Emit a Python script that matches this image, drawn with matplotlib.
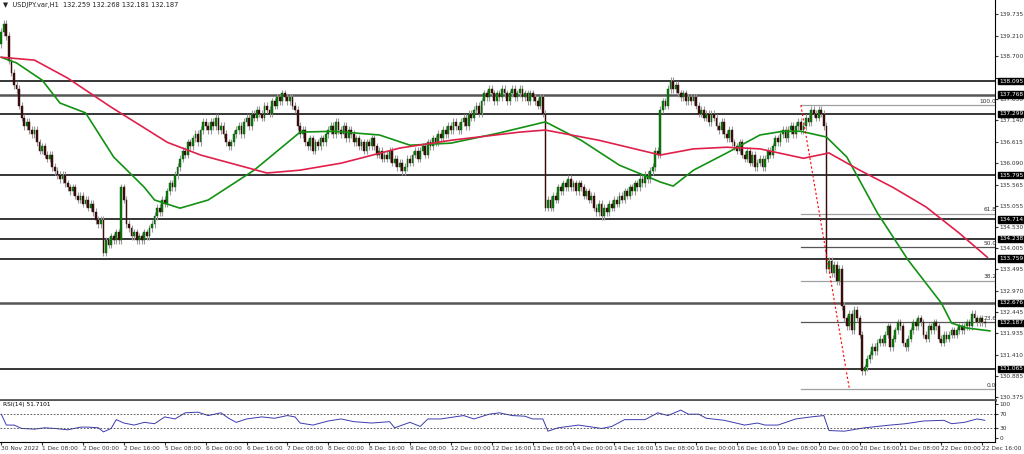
import matplotlib.pyplot as plt
import numpy as np

# hourly closes, USDJPY H1 (30 Nov 16:00 .. 22 Dec 15:00)
closes = [
    139.3, 139.5, 139.2, 138.6, 138.3, 138.0, 137.9, 137.5, 137.2, 137.0,
    137.1, 136.9, 136.8, 136.9, 136.6, 136.4, 136.5, 136.3, 136.2, 136.3,
    136.0, 135.9, 135.8, 135.7, 135.8, 135.6, 135.5, 135.4, 135.5, 135.3,
    135.2, 135.3, 135.1, 135.2, 135.0, 135.1, 134.9, 134.7, 134.6, 134.7,
    133.9, 134.2, 134.1, 134.3, 134.2, 134.4, 134.2, 135.5, 135.2, 134.6,
    134.5, 134.3, 134.4, 134.2, 134.3, 134.2, 134.4, 134.3, 134.5, 134.6,
    134.8, 135.0, 134.9, 135.2, 135.1, 135.4, 135.6, 135.5, 135.8, 136.0,
    136.2, 136.4, 136.3, 136.6, 136.5, 136.7, 136.8, 136.6, 136.9, 137.1,
    137.0, 136.9, 137.1, 137.0, 137.2, 136.9, 137.0, 136.8, 136.6, 136.5,
    136.6, 136.8, 136.9, 137.0, 136.8, 137.1, 137.2, 137.0, 137.3, 137.2,
    137.4, 137.3, 137.2, 137.5, 137.4, 137.3, 137.6, 137.5, 137.7, 137.6,
    137.8, 137.7, 137.6, 137.7, 137.5, 137.4, 137.0, 136.8, 136.9, 136.6,
    136.5, 136.7, 136.4, 136.6, 136.5, 136.7, 136.6, 136.8, 136.9, 137.0,
    136.8, 137.1, 136.9, 136.8, 137.0, 136.7, 136.9, 136.8, 136.6, 136.7,
    136.5, 136.6, 136.4, 136.6, 136.5, 136.7, 136.5, 136.3, 136.4, 136.2,
    136.3, 136.2, 136.4, 136.1, 136.2, 136.0, 136.1, 135.9, 136.0, 136.2,
    136.1, 136.3, 136.4, 136.2, 136.4, 136.5, 136.3, 136.6, 136.5, 136.7,
    136.6, 136.8, 136.7, 136.9, 136.8, 137.0, 136.9, 137.1, 137.0, 136.9,
    137.1, 137.2, 137.0, 137.3, 137.2, 137.4, 137.5, 137.3, 137.6, 137.8,
    137.7, 137.9, 137.8, 137.6, 137.8, 137.7, 137.9, 137.8, 137.6, 137.8,
    137.9, 137.7, 137.8, 137.9, 137.7, 137.8, 137.6, 137.8, 137.7, 137.6,
    137.5, 137.7, 137.3, 135.0, 135.2, 135.0, 135.3, 135.2, 135.5, 135.4,
    135.6, 135.5, 135.7, 135.5, 135.6, 135.4, 135.6, 135.5, 135.3, 135.4,
    135.2, 135.3, 135.0, 134.9, 135.1, 134.8, 135.0, 134.9, 135.1, 135.0,
    135.2, 135.1, 135.3, 135.2, 135.4, 135.3, 135.5, 135.4, 135.6, 135.5,
    135.7, 135.6, 135.8, 135.7, 135.9, 136.0, 136.4, 136.3, 137.4, 137.6,
    137.5, 137.9, 138.1, 137.9, 138.0, 137.8, 137.7, 137.8, 137.6, 137.7,
    137.6, 137.7, 137.5, 137.3, 137.4, 137.2, 137.3, 137.1, 137.3, 137.2,
    137.0, 136.9, 137.1, 136.8, 136.7, 136.9, 136.6, 136.5, 136.4, 136.6,
    136.3, 136.2, 136.4, 136.1, 136.3, 136.0, 136.1, 136.2, 136.0, 136.2,
    136.4, 136.3, 136.5, 136.7, 136.6, 136.8, 136.9, 136.7, 136.9, 137.0,
    136.8, 137.0, 137.1, 136.9, 137.0, 137.2, 137.1, 137.4, 137.3, 137.2,
    137.4, 137.3, 137.0, 133.5, 133.7, 133.4, 133.6, 133.2, 133.5, 132.6,
    132.3, 132.1, 132.4, 132.0, 132.5, 132.3, 131.9, 131.0, 131.1, 131.3,
    131.4, 131.6, 131.5, 131.7, 131.8, 131.7, 131.9, 132.1, 131.6, 131.8,
    132.0, 132.2, 132.1, 131.7, 131.6, 131.8, 132.0, 132.2, 132.1, 132.3,
    132.2, 131.9, 131.8, 132.1, 132.0, 132.2, 132.1, 131.8, 131.7, 131.9,
    131.8, 131.9, 132.0, 131.9, 132.0, 132.1, 132.0, 132.1, 132.2, 132.1,
    132.4, 132.3, 132.2, 132.3, 132.2, 132.187,
]
first_open = 139.0

# moving averages (candle index, price)
ma_fast_idx = [0, 6, 16, 23, 33, 44, 56, 60, 70, 81, 99, 117, 130, 148, 160, 176, 195, 213,
               227, 242, 258, 263, 271, 284, 297, 306, 313, 323, 331, 343, 355, 368, 372, 378, 387]
ma_fast = [138.68, 138.54, 138.12, 137.56, 137.32, 136.24, 135.50, 135.19, 134.99, 135.19,
           135.92, 136.85, 136.87, 136.78, 136.53, 136.58, 136.83, 137.10, 136.65, 136.04,
           135.63, 135.53, 135.92, 136.34, 136.78, 136.87, 136.87, 136.73, 136.24, 134.87,
           133.72, 132.67, 132.18, 132.06, 131.99]
ma_slow_idx = [0, 13, 26, 43, 65, 78, 104, 117, 133, 156, 176, 203, 213, 234, 258, 271, 284,
               297, 314, 324, 336, 349, 362, 375, 386]
ma_slow = [138.68, 138.61, 138.17, 137.46, 136.60, 136.29, 135.85, 135.92, 136.09, 136.46,
           136.65, 136.85, 136.90, 136.65, 136.29, 136.44, 136.48, 136.44, 136.21, 136.34,
           135.92, 135.50, 135.02, 134.38, 133.79]

rsi_idx = [0, 2, 5, 8, 13, 17, 21, 26, 31, 34, 38, 40, 43, 45, 48, 52, 56, 60, 64, 68, 72, 77,
           81, 86, 89, 92, 96, 102, 107, 112, 115, 117, 122, 128, 133, 138, 145, 152, 154, 160,
           164, 167, 172, 181, 185, 191, 195, 200, 205, 208, 212, 214, 218, 226, 235, 239, 244,
           252, 257, 261, 266, 269, 273, 276, 283, 291, 296, 299, 304, 311, 317, 322, 324, 330,
           338, 343, 348, 354, 361, 369, 372, 377, 382, 385]
rsi = [70, 38, 38, 28, 26, 30, 28, 24, 32, 32, 30, 18, 28, 54, 44, 38, 46, 42, 62, 56, 74, 76,
       66, 74, 58, 46, 56, 62, 58, 66, 62, 44, 38, 50, 56, 48, 44, 48, 30, 46,
       34, 56, 56, 66, 56, 70, 74, 66, 64, 56, 56, 20, 30, 38, 28, 34, 54,
       54, 74, 66, 82, 70, 70, 58, 52, 38, 44, 38, 38, 56, 62, 66, 22, 20,
       30, 34, 38, 42, 50, 52, 42, 46, 56, 52]

levels = [138.095, 137.768, 137.299, 135.795, 134.714, 134.238, 133.759, 132.676, 131.065]
thick_levels = [137.768, 132.676]
yticks = [139.735, 139.210, 138.700, 138.175, 137.650, 137.140, 136.615, 136.090, 135.565,
          135.055, 134.530, 134.005, 133.495, 132.970, 132.445, 131.935, 131.410, 130.885, 130.375]
fib_names = ["100.0", "61.8", "50.0", "38.2", "23.6", "0.0"]
fib_ratios = [1.0, 0.618, 0.5, 0.382, 0.236, 0.0]
fib_hi, fib_lo = 137.51, 130.57
fib_start, fib_end = 313, 390
last_price = 132.187

xlabels = ["30 Nov 2022", "1 Dec 08:00", "2 Dec 00:00", "2 Dec 16:00", "5 Dec 08:00",
           "6 Dec 00:00", "6 Dec 16:00", "7 Dec 08:00", "8 Dec 00:00", "8 Dec 16:00",
           "9 Dec 08:00", "12 Dec 00:00", "12 Dec 16:00", "13 Dec 08:00", "14 Dec 00:00",
           "14 Dec 16:00", "15 Dec 08:00", "16 Dec 00:00", "16 Dec 16:00", "19 Dec 08:00",
           "20 Dec 00:00", "20 Dec 16:00", "21 Dec 08:00", "22 Dec 00:00", "22 Dec 16:00"]

FS = 4.2
right = 995 / 1024
fig = plt.figure(figsize=(10.24, 4.54), dpi=100)
ax = fig.add_axes([0.0, 1 - 400 / 454, right, 400 / 454])
ax2 = fig.add_axes([0.0, 1 - 442 / 454, right, 41 / 454])

c = np.array(closes)
o = np.concatenate([[first_open], c[:-1]])
x = np.arange(len(c))
wick = 0.09  # fixed wick length for display
hi = np.maximum(o, c) + wick
lo = np.minimum(o, c) - wick
ax.vlines(x, lo, hi, color="#9a9a9a", lw=0.8, zorder=2)
up = c >= o
ax.bar(x[up], (c - o)[up], bottom=o[up], width=0.7, color="#0a7a0a", edgecolor="#0a5a0a", lw=0.3, zorder=3)
ax.bar(x[~up], (c - o)[~up], bottom=o[~up], width=0.7, color="#3a0d0d", edgecolor="#3a0d0d", lw=0.3, zorder=3)

ax.plot(ma_fast_idx, ma_fast, color="#129112", lw=1.2, zorder=4)
ax.plot(ma_slow_idx, ma_slow, color="#e0204a", lw=1.2, zorder=4)

for lv in levels:
    if lv in thick_levels:
        ax.axhline(lv, color="#555555", lw=1.8, zorder=1)
    else:
        ax.axhline(lv, color="black", lw=1.1, zorder=1)

for name, r in zip(fib_names, fib_ratios):
    p = fib_lo + r * (fib_hi - fib_lo)
    col = "#555555" if name in ("50.0", "23.6") else "#a0a0a0"
    ax.plot([fib_start, fib_end], [p, p], color=col, lw=0.9, zorder=1)
    ax.text(fib_end - 0.5, p + 0.03, name, fontsize=FS, ha="right", va="bottom", color="#333333")
ax.plot([fib_start, 332], [fib_hi, fib_lo], color="red", lw=0.8, ls=(0, (2, 2)), zorder=5)

ax.set_xlim(-0.5, 389)
ax.set_ylim(130.30, 140.08)
ax.yaxis.tick_right()
ax.set_yticks(yticks)
ax.set_yticklabels([f"{t:.3f}" if t != 138.175 else "" for t in yticks])
ax.tick_params(axis="y", labelsize=FS, length=2, pad=1, colors="#333333")
ax.set_xticks([])
for lv in levels + [last_price]:
    ax.text(1.004, lv, f"{lv:.3f}", transform=ax.get_yaxis_transform(), fontsize=FS, color="white",
            va="center", ha="left", bbox=dict(boxstyle="square,pad=0.12", fc="black", ec="black"),
            clip_on=False, zorder=10)
for s in ["top", "left"]:
    ax.spines[s].set_visible(False)
ax.spines["bottom"].set_color("#555555")
ax.spines["bottom"].set_linewidth(2)
ax.text(0.003, 0.995, "\u25bc  USDJPY.var,H1  132.259 132.268 132.181 132.187", transform=ax.transAxes,
        fontsize=4.8, va="top", ha="left", color="#222222")

ax2.plot(rsi_idx, rsi, color="#3b3bb0", lw=0.7)
ax2.axhline(70, color="#444444", lw=0.6, ls=(0, (2, 2)))
ax2.axhline(30, color="#444444", lw=0.6, ls=(0, (2, 2)))
ax2.set_xlim(-0.5, 389)
ax2.set_ylim(-11.8, 108.8)
ax2.yaxis.tick_right()
ax2.set_yticks([0, 30, 70, 100])
ax2.tick_params(axis="y", labelsize=FS, length=2, pad=1, colors="#333333")
ax2.set_xticks(np.arange(len(xlabels)) * 16)
ax2.set_xticklabels(xlabels)
ax2.tick_params(axis="x", labelsize=FS, length=2, pad=1, colors="#333333")
for lab in ax2.get_xticklabels():
    lab.set_horizontalalignment("left")
for s in ["top", "left"]:
    ax2.spines[s].set_visible(False)
ax2.text(0.003, 0.97, "RSI(14) 51.7101", transform=ax2.transAxes, fontsize=FS, va="top", ha="left")

fig.savefig("out.png", dpi=100)
